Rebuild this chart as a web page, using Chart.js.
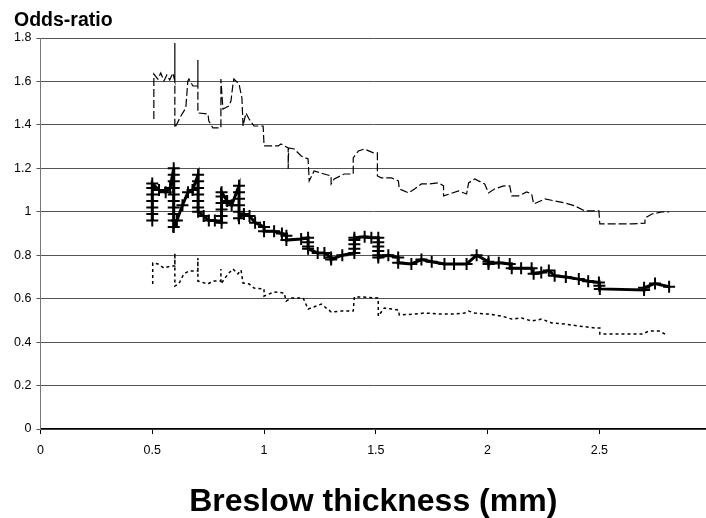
<!DOCTYPE html>
<html>
<head>
<meta charset="utf-8">
<script src="https://cdn.jsdelivr.net/npm/chart.js@4/dist/chart.umd.min.js"></script>
<style>
  html, body { margin: 0; padding: 0; background: #fff; overflow: hidden; }
  #wrap { width: 706px; height: 518px; position: relative; overflow: hidden; }
  canvas { display: block; }
</style>
</head>
<body>
<div id="wrap"><canvas id="c" width="706" height="518"></canvas></div>
<script>
// ---- data ----
const yTitle = "Odds-ratio";
const xTitle = "Breslow thickness (mm)";
const xTicks = [0, 0.5, 1, 1.5, 2, 2.5];
const yTicks = [0, 0.2, 0.4, 0.6, 0.8, 1, 1.2, 1.4, 1.6, 1.8];

// upper confidence limit (dashed)
const upperX = [0.507,0.507,0.525,0.538,0.552,0.565,0.578,0.592,0.601,0.601,0.601,0.628,0.650,0.659,0.664,0.682,0.704,0.704,0.704,0.749,0.753,0.771,0.807,0.807,0.816,0.843,0.852,0.861,0.865,0.888,0.901,0.906,0.919,0.933,0.955,0.996,1.000,1.063,1.076,1.108,1.108,1.110,1.135,1.166,1.197,1.202,1.224,1.269,1.300,1.300,1.314,1.359,1.399,1.399,1.422,1.448,1.489,1.507,1.507,1.525,1.570,1.601,1.605,1.646,1.673,1.704,1.740,1.780,1.803,1.803,1.870,1.906,1.915,1.942,1.987,2.004,2.031,2.072,2.099,2.108,2.139,2.175,2.197,2.206,2.256,2.300,2.345,2.390,2.435,2.498,2.502,2.570,2.646,2.704,2.704,2.735,2.780,2.812];
const upperY = [1.427,1.634,1.611,1.639,1.602,1.630,1.607,1.639,1.602,1.777,1.386,1.441,1.478,1.602,1.611,1.579,1.579,1.699,1.455,1.450,1.418,1.386,1.386,1.611,1.473,1.487,1.510,1.588,1.611,1.588,1.524,1.395,1.455,1.427,1.395,1.395,1.303,1.303,1.312,1.294,1.197,1.294,1.289,1.257,1.243,1.142,1.188,1.174,1.165,1.128,1.151,1.174,1.174,1.248,1.280,1.289,1.271,1.271,1.165,1.156,1.156,1.142,1.105,1.087,1.105,1.128,1.128,1.133,1.119,1.073,1.096,1.082,1.133,1.151,1.128,1.087,1.105,1.119,1.119,1.073,1.073,1.091,1.082,1.036,1.059,1.050,1.041,1.027,1.004,1.004,0.944,0.944,0.944,0.948,0.971,0.990,0.999,0.999];

// odds-ratio estimate (solid, + markers)
const midX = [0.50,0.50,0.50,0.50,0.50,0.50,0.50,0.53,0.56,0.58,0.596,0.596,0.596,0.596,0.596,0.596,0.596,0.596,0.596,0.596,0.61,0.635,0.66,0.68,0.705,0.705,0.705,0.705,0.705,0.705,0.705,0.73,0.753,0.78,0.81,0.81,0.81,0.81,0.81,0.81,0.835,0.855,0.888,0.888,0.888,0.888,0.888,0.888,0.91,0.935,0.96,1.00,1.00,1.045,1.08,1.10,1.10,1.166,1.197,1.197,1.197,1.197,1.24,1.27,1.30,1.30,1.35,1.404,1.404,1.404,1.404,1.404,1.45,1.48,1.511,1.511,1.511,1.511,1.511,1.511,1.556,1.60,1.60,1.659,1.704,1.75,1.807,1.85,1.906,1.951,2.004,2.004,2.05,2.099,2.108,2.15,2.197,2.206,2.24,2.274,2.30,2.35,2.408,2.45,2.498,2.50,2.502,2.70,2.70,2.749,2.812];
const midY = [0.96,0.99,1.02,1.05,1.08,1.11,1.13,1.10,1.09,1.11,1.20,1.17,1.14,1.11,1.08,1.05,1.02,0.99,0.96,0.93,0.96,1.03,1.09,1.10,1.17,1.14,1.11,1.08,1.05,1.02,1.00,0.98,0.96,0.96,0.95,0.98,1.01,1.04,1.07,1.09,1.05,1.03,1.12,1.09,1.06,1.03,1.00,0.97,0.99,0.98,0.95,0.93,0.91,0.91,0.90,0.89,0.87,0.875,0.88,0.86,0.84,0.83,0.81,0.81,0.79,0.78,0.80,0.81,0.83,0.85,0.87,0.88,0.885,0.88,0.88,0.86,0.84,0.82,0.80,0.79,0.80,0.79,0.765,0.76,0.78,0.77,0.76,0.76,0.76,0.80,0.77,0.76,0.765,0.76,0.74,0.74,0.74,0.715,0.72,0.73,0.705,0.70,0.69,0.68,0.675,0.66,0.645,0.64,0.65,0.67,0.655];

// lower confidence limit (dotted)
const lowerX = [0.502,0.502,0.525,0.552,0.583,0.601,0.601,0.601,0.619,0.641,0.664,0.704,0.704,0.704,0.749,0.771,0.798,0.807,0.807,0.807,0.839,0.861,0.883,0.897,0.906,0.933,0.955,1.000,1.000,1.045,1.090,1.099,1.121,1.175,1.197,1.256,1.300,1.345,1.399,1.404,1.435,1.511,1.511,1.538,1.601,1.605,1.673,1.717,1.794,1.839,1.897,1.915,1.942,2.004,2.063,2.108,2.152,2.197,2.242,2.287,2.345,2.408,2.480,2.502,2.502,2.587,2.691,2.722,2.767,2.794];
const lowerY = [0.668,0.764,0.760,0.741,0.750,0.750,0.810,0.658,0.668,0.714,0.727,0.727,0.787,0.681,0.668,0.681,0.681,0.681,0.737,0.668,0.714,0.737,0.714,0.732,0.672,0.668,0.649,0.645,0.612,0.631,0.626,0.589,0.603,0.603,0.552,0.575,0.539,0.543,0.543,0.608,0.608,0.603,0.520,0.557,0.548,0.525,0.529,0.534,0.529,0.529,0.534,0.543,0.534,0.529,0.520,0.506,0.511,0.497,0.506,0.488,0.483,0.474,0.465,0.465,0.437,0.437,0.437,0.451,0.451,0.437];

const zip = (xs, ys) => xs.map((x, i) => ({ x: x, y: ys[i] }));
const FONT = '"Liberation Sans", Arial, sans-serif';

const titlePlugin = {
  id: 'yTitleTop',
  afterDraw(chart) {
    const ctx = chart.ctx;
    ctx.save();
    ctx.font = 'bold 19.5px ' + FONT;
    ctx.fillStyle = '#000';
    ctx.textBaseline = 'alphabetic';
    ctx.textAlign = 'left';
    ctx.fillText(yTitle, 14, 26);
    ctx.restore();
  }
};

new Chart(document.getElementById('c'), {
  type: 'scatter',
  data: {
    datasets: [
      { label: 'upper', data: zip(upperX, upperY), showLine: true, borderColor: '#000', borderWidth: 1.2,
        borderDash: [8, 3], pointRadius: 0, tension: 0 },
      { label: 'OR', data: zip(midX, midY), showLine: true, borderColor: '#000', borderWidth: 3,
        pointStyle: 'cross', pointRadius: 6, pointBorderWidth: 2, pointBorderColor: '#000',
        pointBackgroundColor: '#000', tension: 0 },
      { label: 'lower', data: zip(lowerX, lowerY), showLine: true, borderColor: '#000', borderWidth: 1.5,
        borderDash: [3, 3], pointRadius: 0, tension: 0 }
    ]
  },
  options: {
    responsive: false,
    animation: false,
    devicePixelRatio: 1,
    layout: { autoPadding: false, padding: { top: 38, left: 0, right: 0, bottom: 0 } },
    plugins: { legend: { display: false }, tooltip: { enabled: false }, title: { display: false } },
    scales: {
      x: {
        type: 'linear', min: 0, max: 2.977,
        afterBuildTicks: s => { s.ticks = xTicks.map(v => ({ value: v })); },
        afterFit: s => { s.height = 89; s.paddingRight = 0; s.paddingLeft = 0; },
        border: { color: '#000', width: 1.2 },
        grid: { drawOnChartArea: false, drawTicks: true, tickLength: 5, color: '#000' },
        ticks: { font: { family: FONT, size: 12.5 }, color: '#000', padding: 9, maxRotation: 0,
                 callback: v => String(v) },
        title: { display: true, text: xTitle, color: '#000',
                 font: { family: FONT, size: 32, weight: 'bold', lineHeight: 1 },
                 padding: { top: 0, bottom: 0 } }
      },
      y: {
        type: 'linear', min: 0, max: 1.8,
        afterBuildTicks: s => { s.ticks = yTicks.map(v => ({ value: v })); },
        afterFit: s => { s.width = 40.5; },
        border: { color: '#777', width: 1 },
        grid: { color: '#555', lineWidth: 1, drawTicks: true, tickLength: 4 },
        ticks: { font: { family: FONT, size: 12.5 }, color: '#000', padding: 5,
                 callback: v => String(Math.round(v * 10) / 10) }
      }
    }
  },
  plugins: [titlePlugin]
});
</script>
</body>
</html>
